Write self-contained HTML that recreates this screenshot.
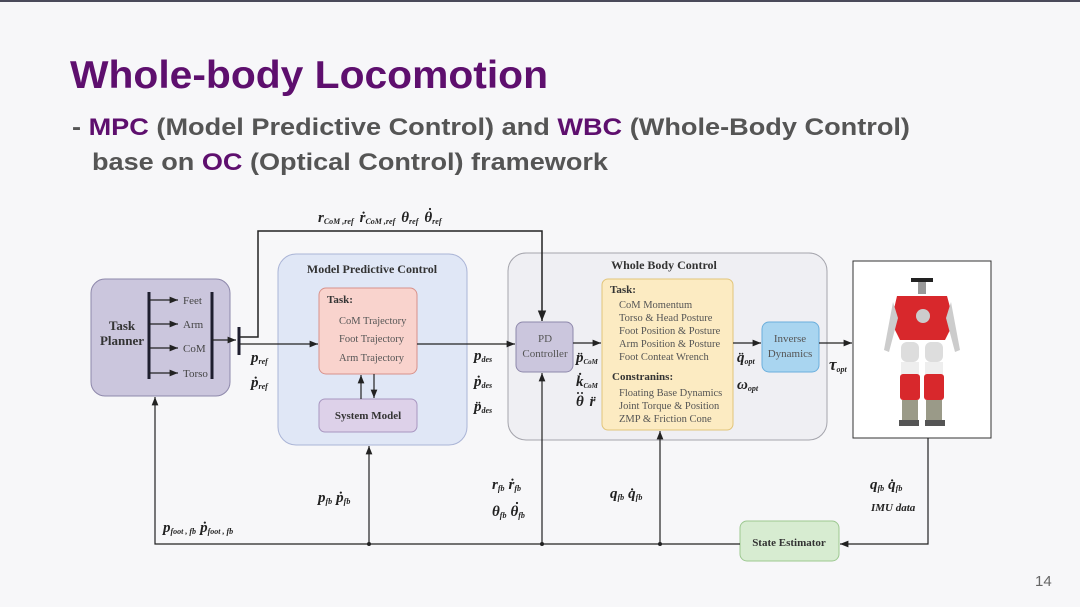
<!DOCTYPE html>
<html><head><meta charset="utf-8"><style>
html,body{margin:0;padding:0;background:#f7f7f9;}
svg{display:block}
</style></head><body>
<svg width="1080" height="607" viewBox="0 0 1080 607" xmlns="http://www.w3.org/2000/svg" font-family="'Liberation Serif', serif">
<defs>
<marker id="a" viewBox="0 0 10 10" refX="10" refY="5" markerWidth="7" markerHeight="7" orient="auto-start-reverse"><path d="M0,1 L10,5 L0,9 z" fill="#222"/></marker>
</defs>
<rect width="1080" height="607" fill="#f7f7f9"/>
<rect width="1080" height="2" fill="#4a4a5a"/>
<g font-family="'Liberation Sans', sans-serif" font-weight="bold">
<text x="70" y="88" font-size="39" fill="#5e0f6e" textLength="478" lengthAdjust="spacingAndGlyphs">Whole-body Locomotion</text>
<text x="72" y="135" font-size="24" fill="#555" textLength="838" lengthAdjust="spacingAndGlyphs">- <tspan fill="#5e0f6e">MPC</tspan> (Model Predictive Control) and <tspan fill="#5e0f6e">WBC</tspan> (Whole-Body Control)</text>
<text x="92" y="170" font-size="24" fill="#555" textLength="516" lengthAdjust="spacingAndGlyphs">base on <tspan fill="#5e0f6e">OC</tspan> (Optical Control) framework</text>
<text x="1035" y="586" font-size="15" font-weight="normal" fill="#666">14</text>
</g>

<!-- boxes -->
<rect x="91" y="279" width="139" height="117" rx="14" fill="#cbc6dd" stroke="#8e88ab"/>
<rect x="278" y="254" width="189" height="191" rx="18" fill="#e0e7f6" stroke="#aab4d6"/>
<rect x="319" y="288" width="98" height="86" rx="7" fill="#f9d3cd" stroke="#d8918a"/>
<rect x="319" y="399" width="98" height="33" rx="6" fill="#ddd1e9" stroke="#a896c0"/>
<rect x="508" y="253" width="319" height="187" rx="18" fill="#efeff3" stroke="#a4a4ac"/>
<rect x="516" y="322" width="57" height="50" rx="7" fill="#cbc6dd" stroke="#8e88ab"/>
<rect x="602" y="279" width="131" height="151" rx="6" fill="#fcebc2" stroke="#e2c57a"/>
<rect x="762" y="322" width="57" height="50" rx="7" fill="#a9d5f0" stroke="#6aaedc"/>
<rect x="853" y="261" width="138" height="177" fill="#fff" stroke="#333"/>
<rect x="740" y="521" width="99" height="40" rx="7" fill="#d7ecd1" stroke="#9cc890"/>

<!-- robot -->
<g>
<rect x="911" y="278" width="22" height="4" fill="#222"/>
<rect x="918" y="282" width="8" height="12" fill="#999"/>
<path d="M897,296 L947,296 L954,322 L945,340 L900,340 L891,322 Z" fill="#d8282c"/>
<circle cx="923" cy="316" r="7" fill="#ccc"/>
<path d="M893,302 L884,350 L889,352 L898,318 Z" fill="#ccc"/>
<path d="M951,302 L960,350 L955,352 L946,318 Z" fill="#ccc"/>
<rect x="901" y="342" width="18" height="20" rx="6" fill="#ddd"/>
<rect x="925" y="342" width="18" height="20" rx="6" fill="#ddd"/>
<rect x="901" y="362" width="18" height="12" fill="#eee"/>
<rect x="925" y="362" width="18" height="12" fill="#eee"/>
<rect x="900" y="374" width="20" height="26" rx="3" fill="#d8282c"/>
<rect x="924" y="374" width="20" height="26" rx="3" fill="#d8282c"/>
<rect x="902" y="400" width="16" height="20" fill="#9a9a88"/>
<rect x="926" y="400" width="16" height="20" fill="#9a9a88"/>
<rect x="899" y="420" width="20" height="6" fill="#555"/>
<rect x="925" y="420" width="20" height="6" fill="#555"/>
</g>

<!-- planner internals -->
<g stroke="#1e1e2e" stroke-width="3"><line x1="149" y1="292" x2="149" y2="379"/><line x1="212" y1="292" x2="212" y2="379"/><line x1="239" y1="327" x2="239" y2="355"/></g>
<g stroke="#222" stroke-width="1.2" fill="none">
<line x1="149" y1="300" x2="178" y2="300" marker-end="url(#a)"/>
<line x1="149" y1="324" x2="178" y2="324" marker-end="url(#a)"/>
<line x1="149" y1="348" x2="178" y2="348" marker-end="url(#a)"/>
<line x1="149" y1="373" x2="178" y2="373" marker-end="url(#a)"/>
<line x1="212" y1="340" x2="236" y2="340" marker-end="url(#a)"/>
<line x1="239" y1="344" x2="318" y2="344" marker-end="url(#a)"/>
<polyline points="240,337 258,337 258,231 542,231 542,321" stroke-width="1.5" marker-end="url(#a)"/>
<line x1="417" y1="344" x2="515" y2="344" marker-end="url(#a)"/>
<line x1="361" y1="399" x2="361" y2="375" marker-end="url(#a)"/>
<line x1="374" y1="374" x2="374" y2="398" marker-end="url(#a)"/>
<line x1="573" y1="343" x2="601" y2="343" marker-end="url(#a)"/>
<line x1="733" y1="343" x2="761" y2="343" marker-end="url(#a)"/>
<line x1="819" y1="343" x2="852" y2="343" marker-end="url(#a)"/>
<polyline points="740,544 155,544 155,397" marker-end="url(#a)"/>
<line x1="369" y1="544" x2="369" y2="446" marker-end="url(#a)"/>
<line x1="542" y1="544" x2="542" y2="373" marker-end="url(#a)"/>
<line x1="660" y1="544" x2="660" y2="431" marker-end="url(#a)"/>
<polyline points="928,438 928,544 840,544" marker-end="url(#a)"/>
</g>
<g fill="#222"><circle cx="369" cy="544" r="2"/><circle cx="542" cy="544" r="2"/><circle cx="660" cy="544" r="2"/></g>

<!-- box texts -->
<g font-size="11" fill="#444">
<text x="183" y="304">Feet</text><text x="183" y="328">Arm</text><text x="183" y="352">CoM</text><text x="183" y="377">Torso</text>
</g>
<g font-weight="bold" fill="#333">
<text x="122" y="330" font-size="13" text-anchor="middle">Task</text>
<text x="122" y="345" font-size="13" text-anchor="middle">Planner</text>
<text x="372" y="273" font-size="12" text-anchor="middle">Model Predictive Control</text>
<text x="327" y="303" font-size="11">Task:</text>
<text x="368" y="419" font-size="11" text-anchor="middle">System Model</text>
<text x="664" y="269" font-size="12" text-anchor="middle">Whole Body Control</text>
<text x="610" y="293" font-size="11">Task:</text>
<text x="612" y="380" font-size="11">Constranins:</text>
<text x="789" y="546" font-size="11" text-anchor="middle">State Estimator</text>
</g>
<g font-size="10.5" fill="#555">
<text x="339" y="324">CoM Trajectory</text><text x="339" y="342">Foot Trajectory</text><text x="339" y="361">Arm Trajectory</text>
<text x="619" y="308">CoM Momentum</text><text x="619" y="321">Torso &amp; Head Posture</text><text x="619" y="334">Foot Position &amp; Posture</text><text x="619" y="347">Arm Position &amp; Posture</text><text x="619" y="360">Foot Conteat Wrench</text>
<text x="619" y="396">Floating Base Dynamics</text><text x="619" y="409">Joint Torque &amp; Position</text><text x="619" y="422">ZMP &amp; Friction Cone</text>
</g>
<g font-size="11" fill="#555" text-anchor="middle"><text x="545" y="342">PD</text><text x="545" y="357">Controller</text><text x="790" y="342">Inverse</text><text x="790" y="357">Dynamics</text></g>

<!-- math labels -->
<g font-style="italic" font-weight="bold" fill="#222" font-size="15">
<text x="318" y="222">r<tspan font-size="8" dy="2">CoM ,ref</tspan><tspan dy="-2" dx="6">ṙ</tspan><tspan font-size="8" dy="2">CoM ,ref</tspan><tspan dy="-2" dx="6">θ</tspan><tspan font-size="8" dy="2">ref</tspan><tspan dy="-2" dx="6">θ</tspan><tspan font-size="8" dy="2">ref</tspan></text>
<text x="251" y="362">p<tspan font-size="8" dy="2">ref</tspan></text>
<text x="251" y="387">ṗ<tspan font-size="8" dy="2">ref</tspan></text>
<text x="474" y="360">p<tspan font-size="8" dy="2">des</tspan></text>
<text x="474" y="386">ṗ<tspan font-size="8" dy="2">des</tspan></text>
<text x="474" y="411">p̈<tspan font-size="8" dy="2">des</tspan></text>
<text x="576" y="362">p̈<tspan font-size="7" dy="2">CoM</tspan></text>
<text x="576" y="386">k̇<tspan font-size="7" dy="2">CoM</tspan></text>
<text x="576" y="406">θ <tspan dx="2">r̈</tspan></text>
<text x="737" y="362">q̈<tspan font-size="8" dy="2">opt</tspan></text>
<text x="737" y="389">ω<tspan font-size="8" dy="2">opt</tspan></text>
<text x="829" y="370" font-size="17">τ<tspan font-size="8" dy="2">opt</tspan></text>
<text x="318" y="502">p<tspan font-size="8" dy="2">fb</tspan><tspan dy="-2" dx="4">ṗ</tspan><tspan font-size="8" dy="2">fb</tspan></text>
<text x="492" y="489">r<tspan font-size="8" dy="2">fb</tspan><tspan dy="-2" dx="4">ṙ</tspan><tspan font-size="8" dy="2">fb</tspan></text>
<text x="492" y="516">θ<tspan font-size="8" dy="2">fb</tspan><tspan dy="-2" dx="4">θ</tspan><tspan font-size="8" dy="2">fb</tspan></text>
<text x="610" y="498">q<tspan font-size="8" dy="2">fb</tspan><tspan dy="-2" dx="4">q̇</tspan><tspan font-size="8" dy="2">fb</tspan></text>
<text x="870" y="489">q<tspan font-size="8" dy="2">fb</tspan><tspan dy="-2" dx="4">q̇</tspan><tspan font-size="8" dy="2">fb</tspan></text>
<text x="871" y="511" font-size="11">IMU  data</text>
<text x="163" y="532">p<tspan font-size="8" dy="2">foot , fb</tspan><tspan dy="-2" dx="4">ṗ</tspan><tspan font-size="8" dy="2">foot , fb</tspan></text>
</g>
<!-- manual dots for theta -->
<g fill="#222">
<circle cx="430" cy="209" r="1.1"/>
<circle cx="517" cy="503" r="1.1"/>
<circle cx="578" cy="393" r="1"/><circle cx="582" cy="393" r="1"/>
</g>
</svg>
</body></html>
